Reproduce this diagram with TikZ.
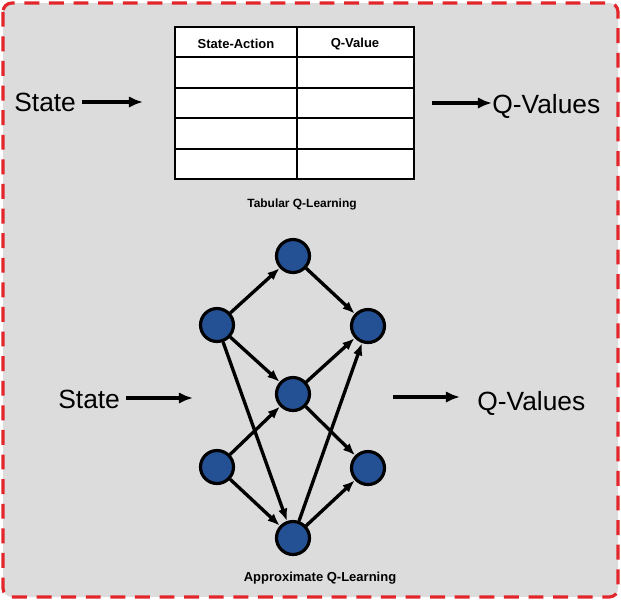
\documentclass[tikz,border=0pt]{standalone}
\usepackage{fontspec}
\setmainfont{Liberation Sans}
\usepackage{xcolor}
\usetikzlibrary{arrows.meta, positioning}

\definecolor{panelgray}{RGB}{220,220,220}
\definecolor{dashred}{RGB}{226,38,44}
\definecolor{unitblue}{RGB}{36,80,148}

\tikzset{
    bigtext/.style={font=\fontsize{15}{18}\selectfont, inner sep=0pt},
    smalltext/.style={font=\fontsize{7.4}{9}\selectfont\bfseries, inner sep=0pt},
    fatarrow/.style={-{Latex[length=8pt,width=6.5pt]}, line width=2.2pt},
    unit/.style={circle, draw=black, line width=1.8pt, fill=unitblue,
        minimum size=0.66cm, inner sep=0pt},
    link/.style={-{Latex[length=7pt,width=5.5pt]}, line width=1.9pt}
}

\begin{document}
\begin{tikzpicture}[x=0.02cm, y=-0.02cm]
    \useasboundingbox (0,0) rectangle (621,600);
    \draw[dashred, line width=1.8pt, dash pattern=on 8.5pt off 5.5pt,
        fill=panelgray, rounded corners=5pt] (3,3) rectangle (618,597);

    % tabular part
    \fill[white] (175,27) rectangle (414,179);
    \draw[black, line width=1.1pt] (175,27) rectangle (414,179);
    \draw[black, line width=1.1pt] (297,27) -- (297,179);
    \draw[black, line width=1.1pt] (175,57) -- (414,57);
    \draw[black, line width=1.1pt] (175,88) -- (414,88);
    \draw[black, line width=1.1pt] (175,118) -- (414,118);
    \draw[black, line width=1.1pt] (175,149) -- (414,149);
    \node[smalltext] (hdrsa) at (236,44) {State-Action};
    \node[smalltext] (hdrqv) at (355,44) {Q-Value};
    \node[smalltext, font=\fontsize{6.8}{8}\selectfont\bfseries] (tablbl) at (302,204) {Tabular Q-Learning};

    \node[bigtext, anchor=west] (statetop) at (14,102) {State};
    \coordinate (tabin) at (143,102);
    \draw[fatarrow, shorten <=3pt] (statetop.east) -- (tabin);
    \node[bigtext, anchor=west] (qvtop) at (492,106) {Q-Values};
    \coordinate (tabout) at (432,103);
    \draw[fatarrow] (tabout) -- (qvtop.west |- tabout);

    % approximate part
    \node[unit] (in1) at (217,325) {};
    \node[unit] (in2) at (217,467) {};
    \node[unit] (hid1) at (293,256) {};
    \node[unit] (hid2) at (293,394) {};
    \node[unit] (hid3) at (293,538) {};
    \node[unit] (out1) at (368,326) {};
    \node[unit] (out2) at (368,468) {};

    \draw[link] (in1) -- (hid1);
    \draw[link] (in1) -- (hid2);
    \draw[link] (in1) -- (hid3);
    \draw[link] (in2) -- (hid2);
    \draw[link] (in2) -- (hid3);
    \draw[link] (hid1) -- (out1);
    \draw[link] (hid2) -- (out1);
    \draw[link] (hid2) -- (out2);
    \draw[link] (hid3) -- (out1);
    \draw[link] (hid3) -- (out2);

    \node[bigtext, anchor=west] (statebot) at (58,399) {State};
    \coordinate (netstart) at (126,398);
    \coordinate (netin) at (193,398);
    \draw[fatarrow] (netstart) -- (netin);
    \node[bigtext, anchor=west] (qvbot) at (477,403) {Q-Values};
    \coordinate (netout) at (393,397);
    \coordinate (netend) at (460,397);
    \draw[fatarrow] (netout) -- (netend);
    \node[smalltext] (netlbl) at (320,578) {Approximate Q-Learning};
\end{tikzpicture}
\end{document}
